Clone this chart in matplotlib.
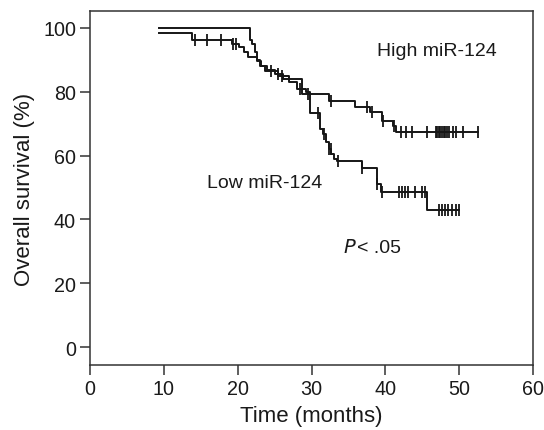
import numpy as np
import matplotlib
matplotlib.use("Agg")
import matplotlib.pyplot as plt

plt.rcParams['font.family'] = ['Liberation Sans', 'DejaVu Sans']

# High miR-124: step times and survival after each step (first = start)
high_t = [9.3, 13.8, 19.2, 20.2, 20.9, 21.4, 22.6, 23.1, 24.0, 25.0, 26.1, 28.7,
          32.3, 35.9, 37.9, 39.5, 41.0, 41.5, 52.6]
high_s = [98.4, 96.3, 95.0, 94.0, 92.4, 90.8, 89.8, 88.2, 86.7, 85.6, 84.0, 79.3,
          77.2, 75.1, 73.6, 71.0, 69.4, 67.5, 67.5]
high_cens = [14.2, 15.9, 17.8, 19.4, 19.8, 25.4, 29.5, 32.6, 37.5, 38.2, 39.7, 41.1,
             42.1, 42.8, 43.6, 45.6, 46.8, 47.0, 47.2, 47.4, 47.7, 47.9, 48.1,
             48.3, 48.6, 49.2, 49.6, 50.5, 52.6]

# Low miR-124
low_t = [9.3, 21.7, 22.0, 22.3, 22.6, 23.0, 23.7, 25.5, 27.0, 28.0, 29.2, 29.8,
         31.2, 31.5, 32.0, 32.3, 32.7, 33.0, 33.4, 36.8, 38.8, 39.4, 45.6, 49.9]
low_s = [100.0, 96.3, 95.0, 92.4, 90.0, 88.0, 86.5, 85.0, 83.0, 80.9, 79.8, 73.5,
         68.3, 66.8, 64.3, 62.0, 60.5, 59.0, 58.4, 56.0, 51.1, 48.5, 42.9, 42.9]
low_cens = [24.5, 26.0, 28.5, 30.9, 31.7, 32.4, 32.6, 33.6, 36.8, 38.8, 39.5,
            41.8, 42.2, 42.7, 43.1, 44.0, 44.9, 45.4, 47.2, 47.6, 48.1, 48.5,
            49.0, 49.5, 49.9]

x_ticks = [0, 10, 20, 30, 40, 50, 60]
y_ticks = [0, 20, 40, 60, 80, 100]

def surv_at(ts, ss, t):
    idx = np.searchsorted(ts, t, side='right') - 1
    return np.asarray(ss)[np.clip(idx, 0, len(ss) - 1)]

fig = plt.figure(figsize=(5.44, 4.31), dpi=100)
ax = fig.add_axes([0.1654, 0.1508, 0.8146, 0.8212])

col = '#161616'
for ts, ss, cs in [(high_t, high_s, high_cens), (low_t, low_s, low_cens)]:
    ax.step(ts, ss, where='post', color=col, lw=1.4)
    ax.plot(cs, surv_at(ts, ss, cs), linestyle='none', marker='|',
            markersize=8, mew=1.3, color=col)

ax.set_xlim(0, 60)
ax.set_ylim(-5.6, 105.3)
ax.set_xticks(x_ticks)
ax.set_yticks(y_ticks)
ax.tick_params(direction='out', length=7, width=1.1, labelsize=14.2, pad=3,
               colors='#333333', labelcolor='#1a1a1a')
for sp in ax.spines.values():
    sp.set_color('#333333')
    sp.set_linewidth(1.1)
ax.set_xlabel('Time (months)', fontsize=16, color='#1a1a1a', labelpad=5)
ax.set_ylabel('Overall survival (%)', fontsize=16, color='#1a1a1a', labelpad=6)

tfs = 14
ax.text(38.8, 92.9, 'High miR-124', fontsize=tfs, va='center', ha='left', color='#1a1a1a')
ax.text(15.8, 51.6, 'Low miR-124', fontsize=tfs, va='center', ha='left', color='#1a1a1a')
ax.text(34.3, 31.3, r'$\it{P}$', fontsize=tfs, va='center', ha='left', color='#1a1a1a')
ax.text(36.1, 31.3, '< .05', fontsize=tfs, va='center', ha='left', color='#1a1a1a')

fig.savefig('out.png', dpi=100)
